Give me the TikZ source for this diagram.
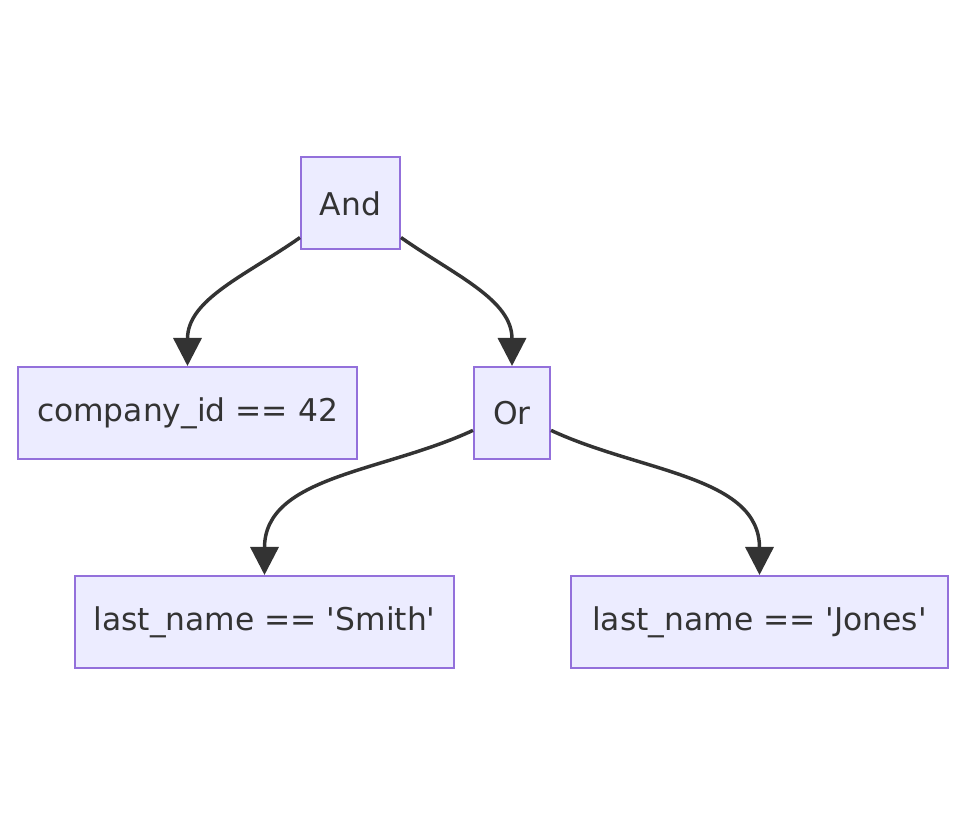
\documentclass[tikz,border=0pt]{standalone}
\usepackage{fontspec}
\setmainfont{DejaVu Sans}
\usetikzlibrary{arrows.meta}

\definecolor{boxfill}{HTML}{ECECFF}
\definecolor{boxline}{HTML}{9370DB}
\definecolor{edgegray}{HTML}{333333}

\tikzset{
    cond/.style={draw=boxline, fill=boxfill, line width=1.5pt, text=edgegray,
        font=\fontsize{23.5}{28}\selectfont, inner sep=0pt, minimum height=69pt},
    edge/.style={draw=edgegray, line width=2.6pt,
        -{Triangle[length=21pt,width=21pt]}}
}

\begin{document}
\begin{tikzpicture}[x=0.75pt,y=0.75pt]

            % Canvas (same frame as the 967x827 page)
            \useasboundingbox (0,0) rectangle (967,827);

            % Conditions
            \node[cond, minimum width=74.25pt]  (and)   at (350.5,623.5) {And};
            \node[cond, minimum width=254.25pt] (cid)   at (187.5,414)   {company\_id == 42};
            \node[cond, minimum width=57pt]     (or)    at (512,414)     {Or};
            \node[cond, minimum width=284.25pt] (smith) at (264.5,205)   {last\_name == \textquotesingle Smith\textquotesingle};
            \node[cond, minimum width=282.75pt] (jones) at (759.5,205)   {last\_name == \textquotesingle Jones\textquotesingle};

            % Edges
            \draw[edge] (and.214) to[out=215, in=90] (cid.north);
            \draw[edge] (and.-34) to[out=-35, in=90] (or.north);
            \draw[edge] (or.204)  to[out=205, in=90] (smith.north);
            \draw[edge] (or.-24)  to[out=-25, in=90] (jones.north);

        \end{tikzpicture}
\end{document}
